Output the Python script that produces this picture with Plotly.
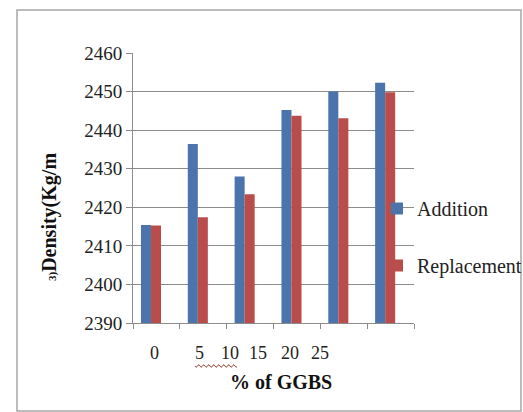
import numpy as np
import plotly.graph_objects as go

# GGBS content (%) and measured concrete density (kg/m3)
categories = ["0", "5", "10", "15", "20", "25"]
addition = [2415.4, 2436.4, 2428.0, 2445.2, 2450.0, 2452.3]
replacement = [2415.3, 2417.4, 2423.4, 2443.7, 2443.1, 2449.8]

# x-axis label text and where each one sits along the category axis
xlabel_text = ["0", "5", "10", "15", "20", "25"]
xlabel_pos = [-0.05, 0.93, 1.57, 2.17, 2.85, 3.5]

serif = "Liberation Serif, Times New Roman, serif"
W, H = 523, 412
L, R, T, B = 133, 109, 53, 89
pw, ph = W - L - R, H - T - B
bar_w = 0.214


def px_x(px):
    return (px - L) / pw


def px_y(py):
    return (H - B - py) / ph


fig = go.Figure()
fig.add_bar(x=categories, y=addition, name="Addition",
            width=bar_w, offset=-0.33,
            marker=dict(color="#4a74ab", line_width=0), legendgroup="a")
fig.add_bar(x=categories, y=replacement, name="Replacement",
            width=bar_w, offset=-0.33 + bar_w,
            marker=dict(color="#b94d4b", line_width=0), legendgroup="r")

annotations = []
for txt, pos in zip(xlabel_text, xlabel_pos):
    annotations.append(dict(x=pos, y=px_y(353), xref="x", yref="paper",
                            xanchor="center", yanchor="middle",
                            text=txt, showarrow=False,
                            font=dict(family=serif, size=18, color="#222")))
annotations.append(dict(x=px_x(281), y=px_y(382), xref="paper", yref="paper",
                        xanchor="center", yanchor="middle",
                        text="<b>% of GGBS</b>", showarrow=False,
                        font=dict(family=serif, size=20, color="#111")))
annotations.append(dict(x=px_x(49), y=px_y(217), xref="paper", yref="paper",
                        xanchor="center", yanchor="middle",
                        text="<b><span style='font-size:11px'>3)</span>Density(Kg/m</b>",
                        textangle=-90, showarrow=False,
                        font=dict(family=serif, size=20, color="#111")))

# wavy proofing underline under "5 10"
wx = np.linspace(195, 237, 43)
wy = 366 + 1.3 * np.sin((wx - 195) * np.pi / 2.5)
wave = "M " + " L ".join(f"{px_x(a):.5f},{px_y(b):.5f}" for a, b in zip(wx, wy))

shapes = [
    dict(type="rect", xref="paper", yref="paper",
         x0=px_x(17), x1=px_x(521), y0=px_y(411), y1=px_y(10),
         line=dict(color="#a6a6a6", width=1.5), layer="below"),
    dict(type="path", xref="paper", yref="paper", path=wave,
         line=dict(color="#9a4a3a", width=1)),
]

fig.update_layout(
    width=W, height=H,
    margin=dict(l=L, r=R, t=T, b=B, autoexpand=False),
    paper_bgcolor="white", plot_bgcolor="white",
    barmode="group",
    font=dict(family=serif, color="#222"),
    showlegend=True,
    legend=dict(x=px_x(377), y=px_y(189), xanchor="left", yanchor="top",
                font=dict(family=serif, size=20, color="#222"),
                tracegroupgap=28, traceorder="grouped",
                bgcolor="rgba(0,0,0,0)"),
    annotations=annotations,
    shapes=shapes,
)
fig.update_xaxes(type="category", range=[-0.5, 5.5], showticklabels=False,
                 showline=True, linecolor="#8c8c8c", linewidth=1,
                 ticks="outside", tickson="boundaries", ticklen=5,
                 tickcolor="#8c8c8c", showgrid=False)
fig.update_yaxes(range=[2390, 2460], dtick=10, tick0=2390,
                 showline=True, linecolor="#8c8c8c", linewidth=1,
                 ticks="outside", ticklen=6, tickcolor="#8c8c8c",
                 gridcolor="#8c8c8c", gridwidth=1,
                 tickfont=dict(family=serif, size=19, color="#222"),
                 zeroline=False)

fig.write_html("out.html")
